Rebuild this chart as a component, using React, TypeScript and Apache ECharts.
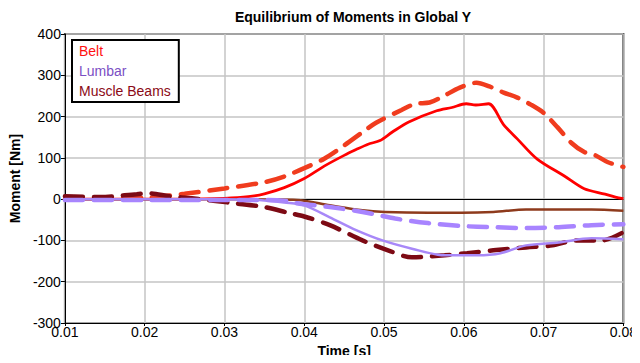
import React, { useEffect, useRef } from "react";
import * as echarts from "echarts";

const xTicks = [0.01, 0.02, 0.03, 0.04, 0.05, 0.06, 0.07, 0.08];
const yTicks = [-300, -200, -100, 0, 100, 200, 300, 400];

const legendNames = ["Belt", "Lumbar", "Muscle Beams"];

const beltSolidT = [0.01, 0.02, 0.025, 0.03, 0.033, 0.035, 0.0375, 0.04, 0.0425, 0.045, 0.0465, 0.048, 0.0495, 0.051, 0.0531, 0.0566, 0.0585, 0.0603, 0.0615, 0.0631, 0.065, 0.0667, 0.0692, 0.0726, 0.0751, 0.0777, 0.079, 0.08];
const beltSolidV = [0, 0, 0, 2, 6, 13, 28, 50, 80, 106, 120, 133, 142, 162, 187, 214, 222, 231, 228, 231, 180, 146, 97, 56, 25, 12, 5, 1];

const beltDashedT = [0.01, 0.02, 0.025, 0.03, 0.035, 0.0375, 0.04, 0.0425, 0.045, 0.0475, 0.049, 0.0522, 0.0539, 0.0557, 0.0573, 0.0595, 0.0616, 0.0632, 0.065, 0.0667, 0.0684, 0.07, 0.0717, 0.0735, 0.0751, 0.0764, 0.078, 0.08];
const beltDashedV = [0, 3, 13, 26, 41, 55, 75, 98, 130, 165, 185, 216, 231, 234, 248, 270, 282, 273, 258, 246, 229, 209, 175, 136, 114, 107, 90, 78];

const lumbarSolidT = [0.01, 0.02, 0.03, 0.035, 0.0375, 0.04, 0.0432, 0.0465, 0.0498, 0.0535, 0.0576, 0.0617, 0.0646, 0.0678, 0.0719, 0.076, 0.08];
const lumbarSolidV = [0, 0, 0, -3, -8, -15, -44, -75, -100, -120, -136, -136, -131, -112, -105, -95, -97];

const lumbarDashedT = [0.01, 0.02, 0.03, 0.035, 0.0382, 0.0391, 0.0432, 0.0473, 0.0514, 0.0555, 0.0597, 0.0637, 0.0678, 0.0719, 0.076, 0.08];
const lumbarDashedV = [-2, -2, -2, -2, -5, -10, -19, -31, -47, -58, -65, -68, -70, -68, -63, -61];

const muscleSolidT = [0.01, 0.02, 0.03, 0.035, 0.0391, 0.0432, 0.0473, 0.0501, 0.0555, 0.0597, 0.0637, 0.0678, 0.072, 0.076, 0.08];
const muscleSolidV = [0, 0, 0, -1, -2, -15, -27, -31, -33, -33, -31, -25, -25, -25, -28];

const muscleDashedT = [0.01, 0.0144, 0.019, 0.0206, 0.0231, 0.0259, 0.0313, 0.035, 0.0382, 0.04, 0.0432, 0.0473, 0.0505, 0.0535, 0.0576, 0.0604, 0.0637, 0.0678, 0.0711, 0.074, 0.0773, 0.08];
const muscleDashedV = [7, 5, 12, 14, 7, 2, -10, -19, -34, -42, -63, -100, -124, -141, -136, -131, -124, -117, -112, -100, -100, -80];

const zip = (t: number[], v: number[]) => t.map((x, i) => [x, v[i]]);

const FONT = "Arial, 'Liberation Sans', sans-serif";

export default function App() {
  const ref = useRef<HTMLDivElement>(null);
  useEffect(() => {
    if (!ref.current) return;
    const chart = echarts.init(ref.current, null, { renderer: "svg" });
    const dash = (color: string, name: string, t: number[], v: number[], z: number) => ({
      type: "line",
      name,
      data: zip(t, v),
      smooth: 0.3,
      showSymbol: false,
      z,
      lineStyle: { color, width: 4.5, type: [18, 11], cap: "round" },
      itemStyle: { color },
    });
    const solid = (color: string, name: string, t: number[], v: number[], z: number, w = 2.5) => ({
      type: "line",
      name,
      data: zip(t, v),
      smooth: 0.3,
      showSymbol: false,
      z,
      lineStyle: { color, width: w },
      itemStyle: { color },
    });
    const beltSeries: any = solid("#ff0000", legendNames[0], beltSolidT, beltSolidV, 3, 2.8);
    beltSeries.markLine = {
      silent: true,
      symbol: "none",
      label: { show: false },
      lineStyle: { color: "#000", width: 1, type: "solid" },
      data: [{ yAxis: 0 }],
      z: 1,
    };
    chart.setOption({
      animation: false,
      backgroundColor: "#fff",
      title: {
        text: "Equilibrium of Moments in Global Y",
        left: 348,
        top: 5,
        textAlign: "center",
        textStyle: { fontFamily: FONT, fontSize: 14, fontWeight: "bold", color: "#000" },
      },
      legend: {
        orient: "vertical",
        left: 72,
        top: 40,
        itemWidth: 0,
        itemHeight: 14,
        itemGap: 6,
        icon: "rect",
        borderColor: "#000",
        borderWidth: 2,
        padding: [4, 8, 4, 2],
        backgroundColor: "#fff",
        selectedMode: false,
        data: [
          { name: legendNames[0], textStyle: { color: "#ff1010" } },
          { name: legendNames[1], textStyle: { color: "#7b4fc4" } },
          { name: legendNames[2], textStyle: { color: "#8b0a16" } },
        ],
        textStyle: { fontFamily: FONT, fontSize: 14 },
      },
      grid: {
        left: 64,
        right: 8,
        top: 34,
        bottom: 40,
        show: true,
        borderColor: "#404040",
        borderWidth: 2,
        backgroundColor: "#fff",
      },
      xAxis: {
        type: "value",
        min: xTicks[0],
        max: xTicks[xTicks.length - 1],
        interval: 0.01,
        name: "Time [s]",
        nameLocation: "middle",
        nameGap: 21,
        nameTextStyle: { fontFamily: FONT, fontSize: 14, fontWeight: "bold", color: "#000" },
        axisLine: { show: true, onZero: false, lineStyle: { color: "#000", width: 1 } },
        axisTick: { show: true, length: 3, inside: false, lineStyle: { color: "#000" } },
        axisLabel: {
          margin: 2,
          fontFamily: FONT,
          fontSize: 14,
          color: "#000",
          formatter: (v: number) => v.toFixed(2),
        },
        splitLine: { show: true, lineStyle: { color: "#c4c4c4", width: 1.5 } },
      },
      yAxis: {
        type: "value",
        min: yTicks[0],
        max: yTicks[yTicks.length - 1],
        interval: 100,
        name: "Moment [Nm]",
        nameLocation: "middle",
        nameGap: 37,
        nameTextStyle: { fontFamily: FONT, fontSize: 14, fontWeight: "bold", color: "#000" },
        axisLine: { show: true, lineStyle: { color: "#000", width: 1 } },
        axisTick: { show: true, length: 4, lineStyle: { color: "#000" } },
        axisLabel: { margin: 4, fontFamily: FONT, fontSize: 14, color: "#000" },
        splitLine: { show: true, lineStyle: { color: "#c4c4c4", width: 1.5 } },
      },
      series: [
        beltSeries,
        dash("#f03c1e", legendNames[0], beltDashedT, beltDashedV, 4),
        dash("#7d0a14", legendNames[2], muscleDashedT, muscleDashedV, 5),
        solid("#8e3a1c", legendNames[2], muscleSolidT, muscleSolidV, 6, 2.5),
        dash("#a884ff", legendNames[1], lumbarDashedT, lumbarDashedV, 7),
        solid("#a888f8", legendNames[1], lumbarSolidT, lumbarSolidV, 8, 2.5),
      ],
    });
    return () => chart.dispose();
  }, []);
  return <div ref={ref} style={{ width: 640, height: 363, margin: -8 }} />;
}
